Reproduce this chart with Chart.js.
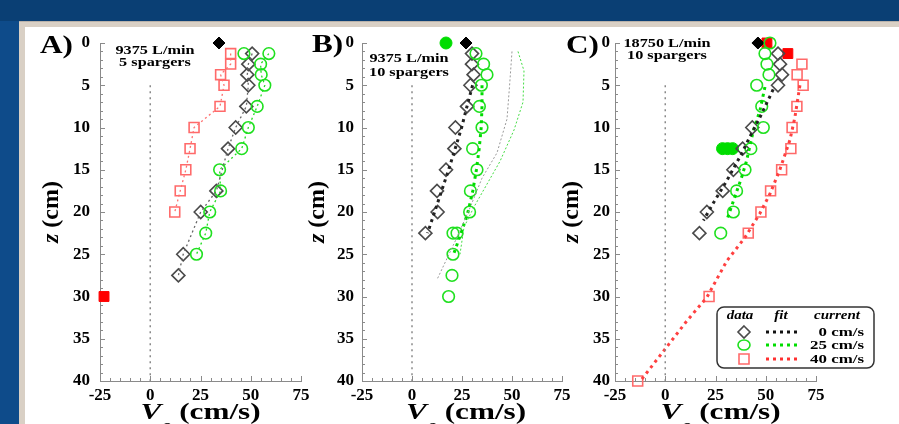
<!DOCTYPE html>
<html><head><meta charset="utf-8">
<script src="https://cdn.jsdelivr.net/npm/chart.js@4/dist/chart.umd.min.js"></script>
<style>
html,body{margin:0;padding:0;width:899px;height:424px;overflow:hidden;background:#0a3f74;}
#strip{position:absolute;left:0;top:21px;width:19px;height:403px;background:#0e4b8a;}
#frame{position:absolute;left:19px;top:21px;width:880px;height:403px;background:#d9d0c5;border-top:1px solid #b9b2aa;}
#inner{position:absolute;left:25px;top:27px;width:874px;height:397px;background:#ffffff;}
canvas{position:absolute;top:0;}
</style></head><body>
<div id="strip"></div><div id="frame"></div><div id="inner"></div>
<canvas id="cA"></canvas><canvas id="cB"></canvas><canvas id="cC"></canvas>
<script>
// ---------------- DATA (V in cm/s, z in cm) ----------------
// Panel A : 9375 L/min, 5 spargers
const A_blackZ = [1.25, 2.5, 3.75, 5, 7.5, 10, 12.5, 17.5, 20, 25, 27.5];
const A_blackV = [50.7, 48.8, 48.3, 48.8, 47.8, 42.5, 38.7, 32.9, 25.1, 16.4, 14];
const A_greenZ = [1.25, 1.25, 2.5, 3.75, 5, 7.5, 10, 12.5, 15, 17.5, 20, 22.5, 25];
const A_greenV = [46.6, 59, 54.9, 55.2, 57, 53.2, 48.8, 45.5, 34.5, 35, 29.6, 27.6, 23];
const A_redZ = [1.25, 2.5, 3.75, 5, 7.5, 10, 12.5, 15, 17.5, 20];
const A_redV = [40, 40, 35, 36.7, 34.7, 21.8, 19.8, 17.7, 14.9, 12.2];
const A_blackFilledZ = [0];
const A_blackFilledV = [34.2];
const A_redFilledZ = [30];
const A_redFilledV = [-23];

// Panel B : 9375 L/min, 10 spargers
const B_blackZ = [1.25, 2.5, 3.75, 5, 7.5, 10, 12.5, 15, 17.5, 20, 22.5];
const B_blackV = [30, 30, 30.8, 29.2, 27.5, 21.7, 21.2, 17, 12.5, 12.8, 6.7];
const B_greenZ = [1.25, 2.5, 3.75, 5, 7.5, 10, 12.5, 15, 17.5, 20, 22.5, 22.5, 25, 27.5, 30];
const B_greenV = [32, 35.8, 37.5, 34.7, 33.7, 35, 30.3, 32.5, 29.2, 28.8, 22.5, 20.5, 20.5, 20, 18.3];
const B_blackFilledZ = [0];
const B_blackFilledV = [27];
const B_greenFilledZ = [0];
const B_greenFilledV = [17];
const B_fitBlackZ = [5, 7.5, 10, 12.5, 15, 17.5, 20, 22.5];
const B_fitBlackV = [30.3, 27.5, 24.8, 21.6, 18.3, 14.8, 11.3, 7.8];
const B_fitGreenZ = [5, 7.5, 10, 12.5, 15, 17.5, 20, 22.5, 25];
const B_fitGreenV = [35, 35, 34.6, 33.6, 32.2, 30.4, 28, 24.5, 20.8];
const B_modelGreyZ = [1, 5, 9, 13, 16, 19.5, 23, 28];
const B_modelGreyV = [50, 48.8, 47.5, 42.5, 35, 29, 22.5, 12.5];
const B_modelGreenZ = [1, 3.3, 7, 10.3, 14, 16.7, 19.4, 21.8, 25];
const B_modelGreenV = [53, 56, 55.5, 51, 44, 37.5, 31, 26, 24];

// Panel C : 18750 L/min, 10 spargers
const C_blackZ = [1.25, 2.5, 3.75, 5, 10, 12.5, 15, 17.5, 20, 22.5];
const C_blackV = [56.1, 57.1, 58.1, 56.1, 43.3, 38.5, 33.9, 28.6, 20.7, 17];
const C_greenZ = [0, 1.25, 2.5, 3.75, 5, 7.5, 10, 12.5, 15, 17.5, 20, 22.5];
const C_greenV = [52.1, 49.6, 50.6, 51.6, 45.5, 48, 48.8, 42.6, 39.7, 35.5, 33.9, 27.6];
const C_redZ = [2.5, 3.75, 5, 7.5, 10, 12.5, 15, 17.5, 20, 22.5, 30, 40];
const C_redV = [68, 65.6, 68.6, 65.5, 63.1, 62.5, 57.9, 52.4, 47.6, 41.3, 21.8, -13.7];
const C_blackFilledZ = [0];
const C_blackFilledV = [46.1];
const C_redFilledZ = [0, 1.25];
const C_redFilledV = [50.6, 61];
const C_greenFilledZ = [12.5, 12.5, 12.5];
const C_greenFilledV = [28.5, 31, 33.5];
const C_fitBlackZ = [5.5, 8.8, 11.1, 13.1, 16.3, 18.9, 21];
const C_fitBlackV = [53.7, 47.1, 42.1, 38, 30.6, 24, 19];
const C_fitGreenZ = [5.2, 8, 10.4, 13.9, 15.9, 18.7, 21];
const C_fitGreenV = [49.6, 47.1, 43.8, 40.5, 38, 33.9, 30.6];
const C_fitRedZ = [5, 8.8, 11.5, 15, 17.9, 20.2, 23, 25.8, 30.1, 32.9, 36.2, 40];
const C_fitRedV = [67, 64.5, 62, 57, 52, 47, 39.7, 30.6, 20.7, 10.7, 0, -12.4];

// zero reference line
const zeroZ = [5, 40];
const zeroV = [0, 0];

// axis ranges / ticks
const X_MIN = -25, X_MAX = 75, X_STEP = 25;
const Z_MIN = 0, Z_MAX = 40, Z_STEP = 5;

// ---------------- STYLES ----------------
const SERIF = "'Liberation Serif', 'Times New Roman', serif";
const C_BLACK = '#4a4a4a', C_GREEN = '#1fe01f', C_RED = '#ff6a6a';
const F_BLACK = '#000000', F_GREEN = '#00dd00', F_RED = '#ff0000';

const zip = (v, z) => v.map((x, i) => ({x: x, y: z[i]}));

function markers(v, z, style, color, radius, filled) {
  return {
    data: zip(v, z), showLine: false, clip: false,
    pointStyle: style, pointRadius: radius, pointHoverRadius: radius,
    pointBorderColor: color, pointBorderWidth: filled ? 1 : 1.6,
    pointBackgroundColor: filled ? color : 'rgba(0,0,0,0)',
    borderColor: color, backgroundColor: filled ? color : 'rgba(0,0,0,0)'
  };
}
function dotted(v, z, color, width, dash, skipFlat) {
  const ds = {
    data: zip(v, z), showLine: true, clip: false, pointRadius: 0, pointHoverRadius: 0,
    borderColor: color, borderWidth: width, borderDash: dash, borderCapStyle: 'butt',
    fill: false, tension: 0
  };
  if (skipFlat) {
    ds.segment = {borderColor: c => c.p0.parsed.y === c.p1.parsed.y ? 'rgba(0,0,0,0)' : color};
  }
  return ds;
}

function stretchText(ctx, text, x, y, font, align, sx) {
  ctx.save();
  ctx.font = font;
  ctx.translate(x, y);
  ctx.scale(sx, 1);
  ctx.textAlign = align;
  ctx.textBaseline = 'alphabetic';
  ctx.fillText(text, 0, 0);
  ctx.restore();
}

function drawLegend(ctx, ox) {
  const X = p => p - ox;
  ctx.save();
  ctx.strokeStyle = '#333'; ctx.lineWidth = 1.5;
  ctx.beginPath();
  ctx.roundRect(X(717), 307, 157, 61, 7);
  ctx.fillStyle = '#fff'; ctx.fill(); ctx.stroke();
  ctx.fillStyle = '#000';
  const hf = 'italic bold 12px ' + SERIF;
  stretchText(ctx, 'data', X(740), 319, hf, 'center', 1.25);
  stretchText(ctx, 'fit', X(781), 319, hf, 'center', 1.25);
  stretchText(ctx, 'current', X(837), 319, hf, 'center', 1.25);
  const rows = [
    {y: 332, c: C_BLACK, f: '#111', s: 'diamond', t: '0 cm/s'},
    {y: 345, c: C_GREEN, f: F_GREEN, s: 'circle', t: '25 cm/s'},
    {y: 359, c: C_RED, f: '#ff3030', s: 'square', t: '40 cm/s'}
  ];
  rows.forEach(r => {
    const mx = X(744);
    ctx.strokeStyle = r.c; ctx.lineWidth = 1.6;
    ctx.beginPath();
    if (r.s === 'diamond') {
      ctx.moveTo(mx, r.y - 6); ctx.lineTo(mx + 6, r.y); ctx.lineTo(mx, r.y + 6); ctx.lineTo(mx - 6, r.y); ctx.closePath();
    } else if (r.s === 'circle') {
      ctx.ellipse(mx, r.y, 6, 5, 0, 0, Math.PI * 2);
    } else {
      ctx.rect(mx - 5, r.y - 5, 10, 10);
    }
    ctx.stroke();
    ctx.strokeStyle = r.f; ctx.lineWidth = 3; ctx.setLineDash([3, 4]);
    ctx.beginPath(); ctx.moveTo(X(766), r.y); ctx.lineTo(X(800), r.y); ctx.stroke();
    ctx.setLineDash([]);
    ctx.fillStyle = '#000';
    stretchText(ctx, r.t, X(864), r.y + 4, 'bold 13px ' + SERIF, 'right', 1.3);
  });
  ctx.restore();
}

function makePanel(id, P, datasets) {
  const cv = document.getElementById(id);
  cv.style.left = P.left + 'px';
  cv.width = P.width; cv.height = 424;
  cv.style.width = P.width + 'px'; cv.style.height = '424px';
  const deco = {
    id: 'deco' + id,
    beforeDatasetsDraw(chart) {
      const ctx = chart.ctx, xs = chart.scales.x, ys = chart.scales.y;
      const a = chart.chartArea;
      ctx.save();
      ctx.strokeStyle = '#8a8a8a'; ctx.lineWidth = 1;
      ctx.beginPath();
      for (let v = Z_MIN; v <= Z_MAX; v += 1) {
        const py = Math.round(ys.getPixelForValue(v)) + 0.5;
        ctx.moveTo(a.left, py); ctx.lineTo(a.left + (v % Z_STEP === 0 ? 5 : 3), py);
      }
      for (let v = X_MIN; v <= X_MAX; v += 5) {
        const px = Math.round(xs.getPixelForValue(v)) + 0.5;
        ctx.moveTo(px, a.bottom); ctx.lineTo(px, a.bottom - (v % X_STEP === 0 ? 5 : 3));
      }
      ctx.stroke();
      ctx.restore();
    },
    afterDraw(chart) {
      const ctx = chart.ctx, a = chart.chartArea;
      const ox = P.left;
      ctx.save();
      ctx.fillStyle = '#000';
      stretchText(ctx, P.label, P.labelX - ox, P.labelY, 'bold 26px ' + SERIF, 'left', 1.2);
      stretchText(ctx, P.ann[0], P.annX - ox, P.annY[0], 'bold 13px ' + SERIF, 'center', 1.25);
      stretchText(ctx, P.ann[1], P.annX - ox, P.annY[1], 'bold 13px ' + SERIF, 'center', 1.25);
      // y title: z (cm)
      ctx.save();
      ctx.translate(P.yTitleX - ox, (a.top + a.bottom) / 2);
      ctx.rotate(-Math.PI / 2);
      const f1 = 'italic bold 24px ' + SERIF, f2 = 'bold 24px ' + SERIF;
      ctx.font = f1; const w1 = ctx.measureText('z').width;
      ctx.font = f2; const w2 = ctx.measureText(' (cm)').width;
      let sx0 = -(w1 + w2) / 2;
      ctx.textBaseline = 'middle'; ctx.textAlign = 'left';
      ctx.font = f1; ctx.fillText('z', sx0, 0);
      ctx.font = f2; ctx.fillText(' (cm)', sx0 + w1, 0);
      ctx.restore();
      // x title: V_theta (cm/s)
      const sx = 1.3;
      const runs = [
        {t: 'V', f: 'italic bold 24px ' + SERIF, dy: 0},
        {t: 'θ', f: 'italic bold 15px ' + SERIF, dy: 14},
        {t: ' (cm/s)', f: 'bold 24px ' + SERIF, dy: 0}
      ];
      let tot = 0;
      runs.forEach(r => { ctx.font = r.f; r.w = ctx.measureText(r.t).width * sx; tot += r.w; });
      let cx = (a.left + a.right) / 2 + P.xTitleDx - tot / 2;
      runs.forEach(r => { stretchText(ctx, r.t, cx, 419 + r.dy, r.f, 'left', sx); cx += r.w; });
      ctx.restore();
      if (P.legend) drawLegend(ctx, ox);
    }
  };
  return new Chart(cv, {
    type: 'scatter',
    data: {datasets: datasets},
    plugins: [deco],
    options: {
      responsive: false, animation: false, events: [],
      layout: {padding: {left: 0, right: P.padRight, top: 43, bottom: 0}},
      plugins: {legend: {display: false}, tooltip: {enabled: false}},
      scales: {
        x: {
          type: 'linear', min: X_MIN, max: X_MAX,
          ticks: {stepSize: X_STEP, autoSkip: false, maxRotation: 0, padding: 4, color: '#000',
                  font: {family: SERIF, size: 17, weight: 'bold'}},
          grid: {drawOnChartArea: false, drawTicks: false},
          border: {display: true, color: '#8a8a8a', width: 1},
          afterFit: s => { s.height = 43; }
        },
        y: {
          type: 'linear', reverse: true, min: Z_MIN, max: Z_MAX,
          ticks: {stepSize: Z_STEP, autoSkip: false, padding: P.tickPad, color: '#000',
                  font: {family: SERIF, size: 17, weight: 'bold'}},
          grid: {drawOnChartArea: false, drawTicks: false},
          border: {display: true, color: '#8a8a8a', width: 1},
          afterFit: s => { s.width = P.yW; }
        }
      }
    }
  });
}

const PA = {left: 20, width: 300, yW: 80, padRight: 19, tickPad: 10, yTitleX: 52, label: 'A)', labelX: 40, labelY: 53,
            ann: ['9375 L/min', '5 spargers'], annX: 155, annY: [54, 66], xTitleDx: 0, legend: false};
const PB = {left: 290, width: 290, yW: 72, padRight: 18, tickPad: 8, yTitleX: 318, label: 'B)', labelX: 312, labelY: 52,
            ann: ['9375 L/min', '10 spargers'], annX: 409, annY: [62, 76], xTitleDx: 4, legend: false};
const PC = {left: 545, width: 354, yW: 70, padRight: 83, tickPad: 5, yTitleX: 572, label: 'C)', labelX: 566, labelY: 53,
            ann: ['18750 L/min', '10 spargers'], annX: 667, annY: [47, 59], xTitleDx: 5, legend: true};

const ZERO_STYLE = ['#8a8a8a', 1.5, [2, 4]];

makePanel('cA', PA, [
  dotted(zeroV, zeroZ, ...ZERO_STYLE),
  dotted(A_redV, A_redZ, '#ff7070', 1.3, [2, 3]),
  dotted(A_blackV, A_blackZ, '#666666', 1.3, [2, 3]),
  dotted(A_greenV, A_greenZ, '#22dd22', 1.3, [2, 3], true),
  markers(A_redV, A_redZ, 'rect', C_RED, 7, false),
  markers(A_greenV, A_greenZ, 'circle', C_GREEN, 5.8, false),
  markers(A_blackV, A_blackZ, 'rectRot', C_BLACK, 6.5, false),
  markers(A_blackFilledV, A_blackFilledZ, 'rectRot', F_BLACK, 6, true),
  markers(A_redFilledV, A_redFilledZ, 'rect', F_RED, 7, true)
]);

makePanel('cB', PB, [
  dotted(zeroV, zeroZ, ...ZERO_STYLE),
  dotted(B_modelGreyV, B_modelGreyZ, '#9a9a9a', 1, [2, 2]),
  dotted(B_modelGreenV, B_modelGreenZ, '#44dd44', 1, [2, 2]),
  dotted(B_fitBlackV, B_fitBlackZ, '#222222', 3, [3, 4]),
  dotted(B_fitGreenV, B_fitGreenZ, F_GREEN, 3, [3, 4]),
  markers(B_greenV, B_greenZ, 'circle', C_GREEN, 5.8, false),
  markers(B_blackV, B_blackZ, 'rectRot', C_BLACK, 6.5, false),
  markers(B_greenFilledV, B_greenFilledZ, 'circle', F_GREEN, 6, true),
  markers(B_blackFilledV, B_blackFilledZ, 'rectRot', F_BLACK, 6, true)
]);

makePanel('cC', PC, [
  dotted(zeroV, zeroZ, ...ZERO_STYLE),
  dotted(C_fitRedV, C_fitRedZ, '#ff4040', 3, [3, 4]),
  dotted(C_fitBlackV, C_fitBlackZ, '#222222', 3, [3, 4]),
  dotted(C_fitGreenV, C_fitGreenZ, F_GREEN, 3, [3, 4]),
  markers(C_redV, C_redZ, 'rect', C_RED, 7, false),
  markers(C_greenV, C_greenZ, 'circle', C_GREEN, 5.8, false),
  markers(C_blackV, C_blackZ, 'rectRot', C_BLACK, 6.5, false),
  markers(C_greenFilledV, C_greenFilledZ, 'circle', F_GREEN, 6, true),
  markers(C_blackFilledV, C_blackFilledZ, 'rectRot', F_BLACK, 6, true),
  markers(C_redFilledV, C_redFilledZ, 'rect', F_RED, 7, true)
]);
</script>
</body></html>
